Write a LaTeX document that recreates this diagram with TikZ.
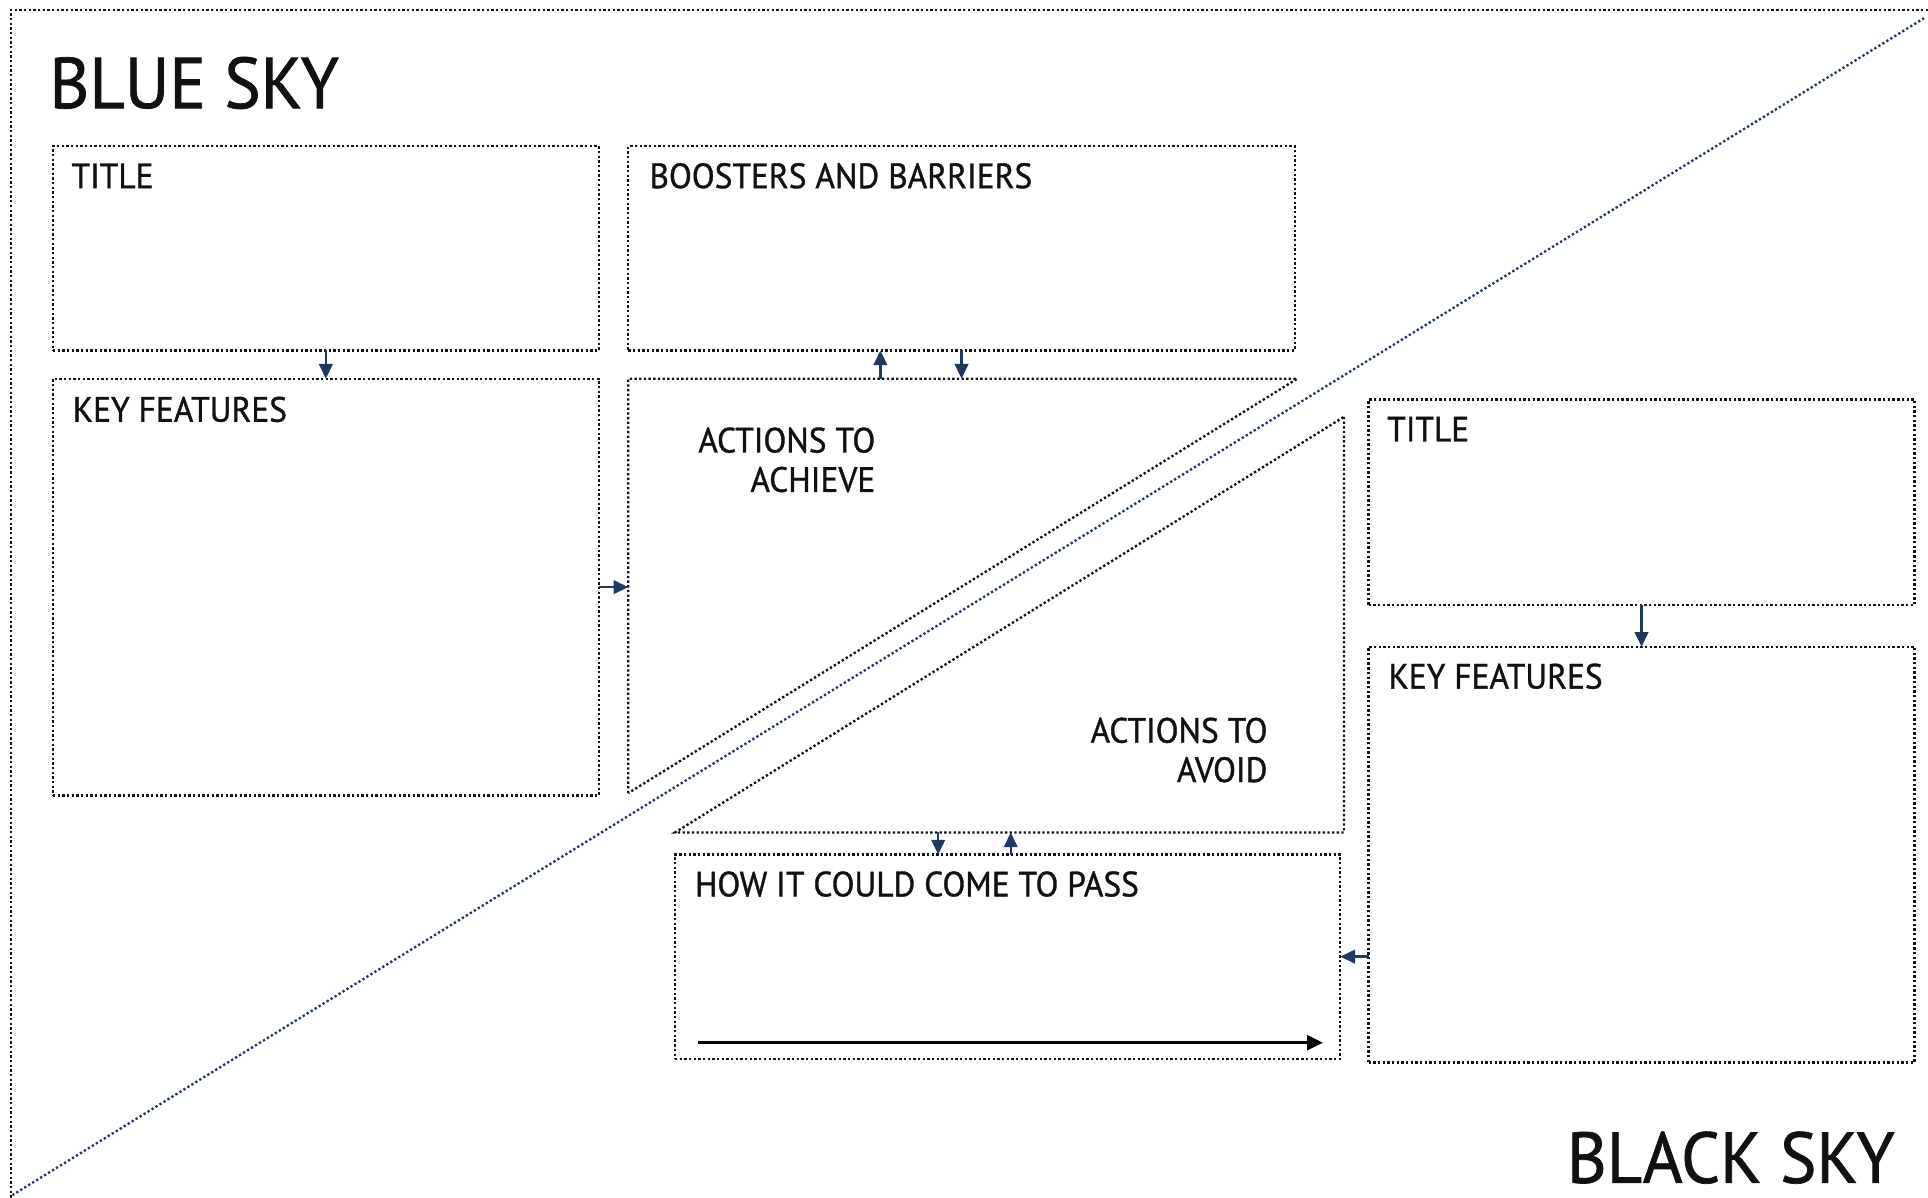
\documentclass[tikz,border=0pt]{standalone}
\usepackage{fontspec}
\setmainfont[FakeStretch=0.95,FakeBold=1]{PT Sans}
\usetikzlibrary{arrows.meta}
\definecolor{navy}{HTML}{1F3A60}
\definecolor{ink}{HTML}{111111}
\begin{document}
\begin{tikzpicture}[x=1pt,y=-1pt,
  dots/.style={line width=1.9pt, dash pattern=on 1.9pt off 1.9pt, draw=ink},
  box/.style={dots, rectangle, inner sep=0pt, outer sep=0pt},
  lbl/.style={font=\fontsize{28.6}{32}\selectfont, text=ink, inner sep=0pt, anchor=base west},
  big/.style={font=\fontsize{58.6}{64}\selectfont, text=ink, inner sep=0pt},
  arr/.style={draw=navy, line width=2pt, -{Triangle[length=12pt,width=11pt]}},
  timearrow/.style={draw=black, line width=2.3pt, -{Triangle[length=13pt,width=12pt]}}
]
\useasboundingbox (0,0) rectangle (1568,974);
% outer frame (top and left only)
\coordinate (fTL) at (9,8);
\coordinate (fTR) at (1568,8);
\coordinate (fBL) at (9,974);
\draw[dots] (fTR) -- (fTL) -- (fBL);
% main diagonal
\coordinate (dA) at (10,972);
\coordinate (dB) at (1566,14);
\draw[dots, draw=navy] (dA) -- (dB);
% headings
\node[big, anchor=base west] (bluesky) at (40,88) {BLUE SKY};
\node[big, anchor=base east] (blacksky) at (1541,962) {BLACK SKY};
% boxes
\node[box, minimum width=444pt, minimum height=166pt] (tl) at (265,202) {};
\node[box, minimum width=444pt, minimum height=339pt] (kl) at (265,477.5) {};
\node[box, minimum width=542pt, minimum height=166pt] (bb) at (782,202) {};
\node[box, minimum width=541pt, minimum height=166pt] (how) at (819.5,778) {};
\node[box, minimum width=444pt, minimum height=167pt] (tr) at (1335,408.5) {};
\node[box, minimum width=444pt, minimum height=338pt] (kr) at (1335,695) {};
% actions to achieve (triangle)
\coordinate (a1) at (511,308);
\coordinate (a2) at (1055,308);
\coordinate (a3) at (511,645);
\draw[dots] (a3) -- (a1) -- (a2) -- cycle;
% actions to avoid (triangle)
\coordinate (v1) at (1093,339);
\coordinate (v2) at (1093,677);
\coordinate (v3) at (549,677);
\draw[dots] (v1) -- (v2) -- (v3) -- cycle;
% labels
\node[lbl] (ltl) at (58,153) {TITLE};
\node[lbl] (lbb) at (528,153) {BOOSTERS AND BARRIERS};
\node[lbl] (lkl) at (59,343) {KEY FEATURES};
\node[lbl, anchor=base east] (lach1) at (712,368) {ACTIONS TO};
\node[lbl, anchor=base east] (lach2) at (712,400) {ACHIEVE};
\node[lbl, anchor=base east] (lavd1) at (1031,604) {ACTIONS TO};
\node[lbl, anchor=base east] (lavd2) at (1031,636) {AVOID};
\node[lbl] (lhow) at (565,729) {HOW IT COULD COME TO PASS};
\node[lbl] (ltr) at (1128,359) {TITLE};
\node[lbl] (lkr) at (1129,560) {KEY FEATURES};
% connectors
\draw[arr] (tl.south) -- (kl.north);
\draw[arr] (kl.east) -- (kl.east -| a1);
\draw[arr] (bb.south) -- (bb.south |- a1);
\coordinate (upA) at (716,308);
\draw[arr] (upA) -- (upA |- bb.south);
\coordinate (dnB) at (763,677);
\draw[arr] (dnB) -- (dnB |- how.north);
\coordinate (upB) at (822,695);
\draw[arr] (upB) -- (upB |- v2);
\draw[arr] (tr.south) -- (kr.north);
\draw[arr] (how.east -| kr.west) -- (how.east);
% time arrow
\coordinate (t0) at (568,848);
\coordinate (t1) at (1076,848);
\draw[timearrow] (t0) -- (t1);
\end{tikzpicture}
\end{document}
